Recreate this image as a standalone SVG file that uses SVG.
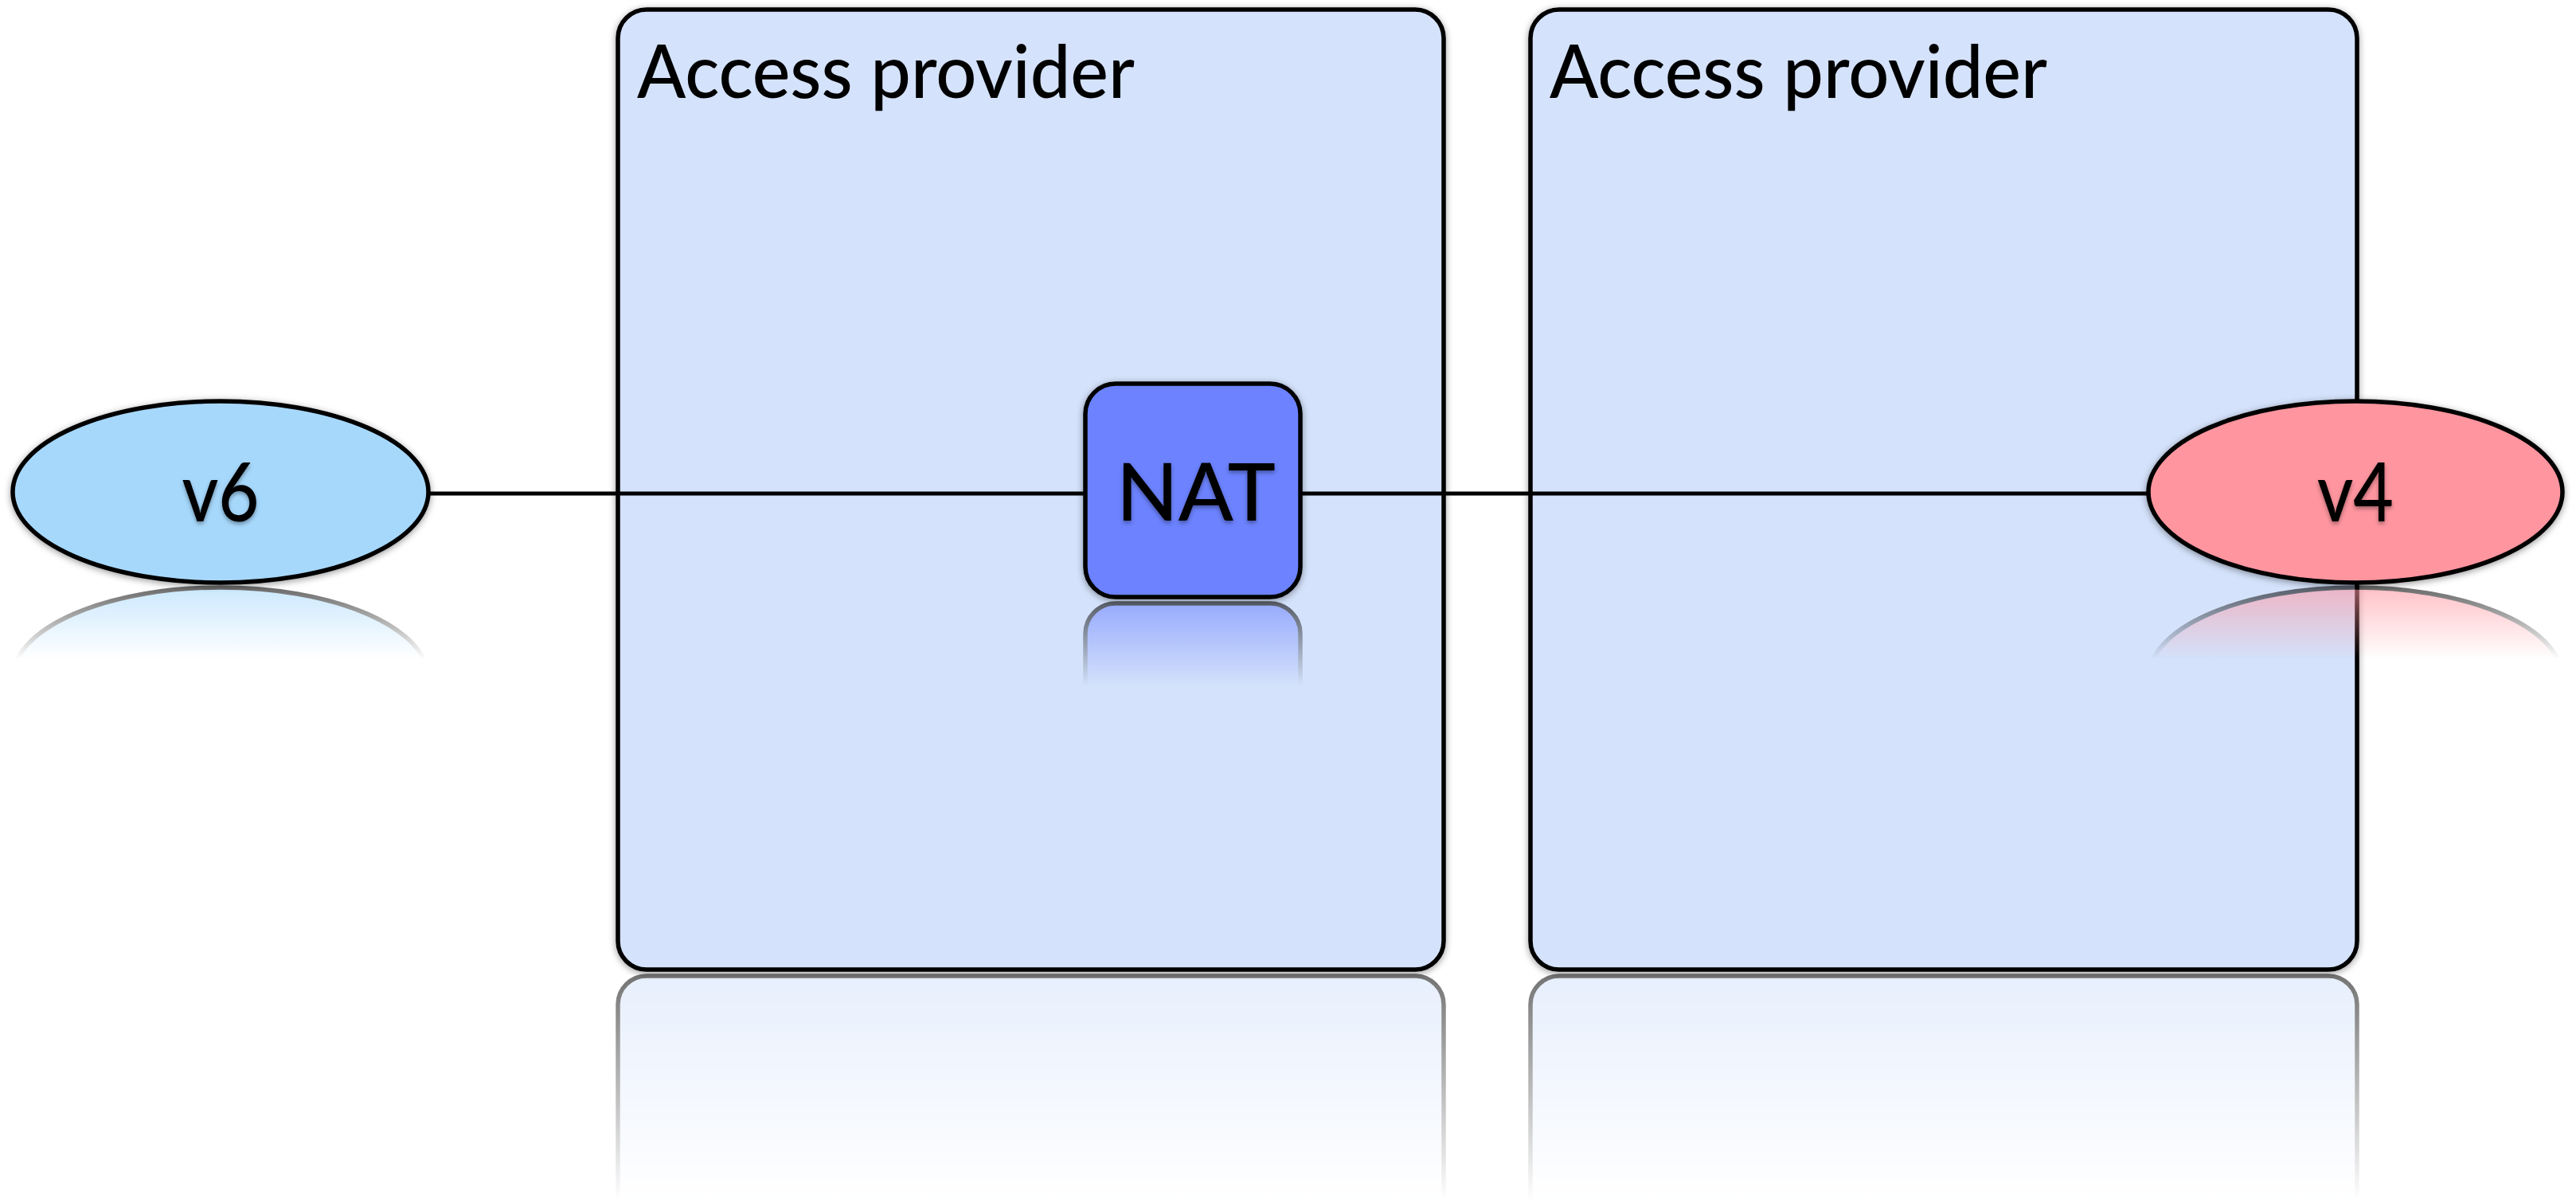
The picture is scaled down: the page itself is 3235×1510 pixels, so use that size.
<svg xmlns="http://www.w3.org/2000/svg" width="3235" height="1510" viewBox="0 0 3235 1510">
  <style>
    .box { fill: #D4E2FB; stroke: #000; stroke-width: 5.5; }
    .v6 { fill: #A6D8FC; stroke: #000; stroke-width: 5.5; }
    .v4 { fill: #FE959F; stroke: #000; stroke-width: 5.5; }
    .nat { fill: #6C82FE; stroke: #000; stroke-width: 5.5; }
    .conn { stroke: #000; stroke-width: 5; fill: none; }
    .title { font-family: Lato, "Open Sans", "Liberation Sans", sans-serif; font-size: 92px; font-weight: 500; fill: #000; }
    .label { font-family: Lato, "Open Sans", "Liberation Sans", sans-serif; font-size: 102px; font-weight: 500; fill: #000; text-anchor: middle; }
  </style>
  <defs>
    <filter id="shadow" x="-5%" y="-5%" width="110%" height="110%">
      <feDropShadow dx="0" dy="2" stdDeviation="4" flood-color="#000" flood-opacity="0.4"/>
    </filter>
    <filter id="tshadow" x="-10%" y="-10%" width="120%" height="130%">
      <feDropShadow dx="0" dy="3" stdDeviation="2.5" flood-color="#000" flood-opacity="0.35"/>
    </filter>
    <linearGradient id="fadeBox" gradientUnits="userSpaceOnUse" x1="0" y1="1222" x2="0" y2="1508">
      <stop offset="0" stop-color="#fff" stop-opacity="0.55"/>
      <stop offset="1" stop-color="#fff" stop-opacity="0"/>
    </linearGradient>
    <linearGradient id="fadeEll" gradientUnits="userSpaceOnUse" x1="0" y1="735" x2="0" y2="828">
      <stop offset="0" stop-color="#fff" stop-opacity="0.6"/>
      <stop offset="1" stop-color="#fff" stop-opacity="0"/>
    </linearGradient>
    <linearGradient id="fadeNat" gradientUnits="userSpaceOnUse" x1="0" y1="754" x2="0" y2="862">
      <stop offset="0" stop-color="#fff" stop-opacity="0.6"/>
      <stop offset="1" stop-color="#fff" stop-opacity="0"/>
    </linearGradient>
    <mask id="mBox" maskUnits="userSpaceOnUse" x="0" y="1222" width="3235" height="288">
      <rect x="0" y="1222" width="3235" height="288" fill="url(#fadeBox)"/>
    </mask>
    <mask id="mEll" maskUnits="userSpaceOnUse" x="0" y="735" width="3235" height="100">
      <rect x="0" y="735" width="3235" height="100" fill="url(#fadeEll)"/>
    </mask>
    <mask id="mNat" maskUnits="userSpaceOnUse" x="0" y="754" width="3235" height="110">
      <rect x="0" y="754" width="3235" height="110" fill="url(#fadeNat)"/>
    </mask>
  </defs>

  <rect x="0" y="0" width="3235" height="1510" fill="#fff"/>

  <!-- box reflections -->
  <g id="reflections-boxes" mask="url(#mBox)">
    <rect class="box" x="776" y="1226" width="1037" height="1206" rx="36"/>
    <rect class="box" x="1922" y="1226" width="1038" height="1206" rx="36"/>
  </g>

  <g id="provider1" filter="url(#shadow)">
    <rect class="box" x="776" y="12" width="1037" height="1206" rx="36"/>
    <text class="title" x="800" y="123" textLength="625" lengthAdjust="spacingAndGlyphs">Access provider</text>
  </g>
  <g id="provider2" filter="url(#shadow)">
    <rect class="box" x="1922" y="12" width="1038" height="1206" rx="36"/>
    <text class="title" x="1946" y="123" textLength="625" lengthAdjust="spacingAndGlyphs">Access provider</text>
  </g>

  <g id="connectors">
    <line class="conn" x1="538" y1="620" x2="1363" y2="620"/>
    <line class="conn" x1="1633" y1="620" x2="2698" y2="620"/>
  </g>

  <g id="v6" filter="url(#shadow)">
    <ellipse class="v6" cx="277" cy="618" rx="261" ry="114"/>
    <text class="label" x="277" y="655" textLength="97" lengthAdjust="spacingAndGlyphs" filter="url(#tshadow)">v6</text>
  </g>

  <g id="nat" filter="url(#shadow)">
    <rect class="nat" x="1363" y="482" width="270" height="268" rx="38"/>
    <text class="label" x="1502" y="654" textLength="200" lengthAdjust="spacingAndGlyphs" filter="url(#tshadow)" style="font-size:100px">NAT</text>
  </g>

  <g id="v4" filter="url(#shadow)">
    <ellipse class="v4" cx="2958" cy="618" rx="260" ry="114"/>
    <text class="label" x="2958" y="655" textLength="96" lengthAdjust="spacingAndGlyphs" filter="url(#tshadow)">v4</text>
  </g>

  <!-- node reflections -->
  <g id="reflections-nodes">
    <g mask="url(#mEll)">
      <ellipse class="v6" cx="277" cy="852" rx="261" ry="114"/>
      <ellipse class="v4" cx="2958" cy="852" rx="260" ry="114"/>
    </g>
    <g mask="url(#mNat)">
      <rect class="nat" x="1363" y="758" width="270" height="268" rx="38"/>
    </g>
  </g>
</svg>
